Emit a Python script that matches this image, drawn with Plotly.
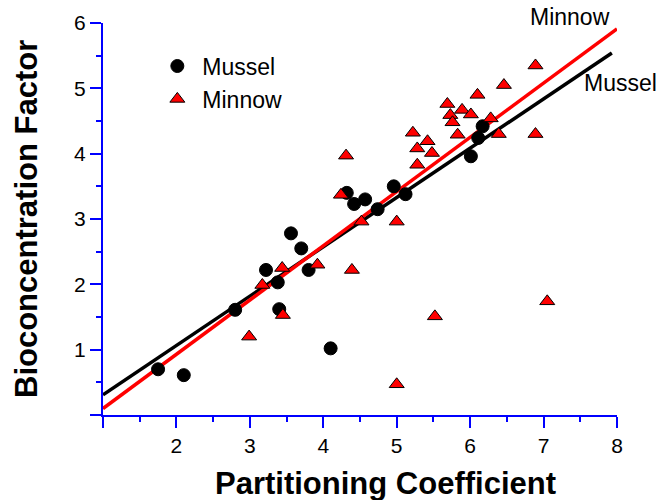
import plotly.graph_objects as go

# Data
mussel_x = [1.75, 2.10, 2.80, 3.22, 3.38, 3.40, 3.56, 3.70, 3.80, 4.10,
            4.32, 4.42, 4.57, 4.74, 4.96, 5.12, 6.01, 6.11, 6.17]
mussel_y = [0.70, 0.61, 1.61, 2.22, 2.03, 1.62, 2.78, 2.55, 2.22, 1.02,
            3.40, 3.23, 3.30, 3.15, 3.50, 3.38, 3.96, 4.24, 4.42]

minnow_x = [2.99, 3.17, 3.44, 3.45, 3.92, 4.39, 4.52, 4.31, 4.24, 5.00,
            5.22, 5.28, 5.28, 5.42, 5.48, 5.69, 5.73, 5.76, 5.83, 5.89,
            6.01, 6.10, 6.28, 6.39, 6.46, 6.89, 6.89, 5.52, 7.05, 5.00]
minnow_y = [1.20, 1.99, 2.25, 1.53, 2.30, 2.22, 2.96, 3.97, 3.37, 2.96,
            4.32, 4.08, 3.83, 4.19, 4.01, 4.76, 4.59, 4.48, 4.29, 4.67,
            4.60, 4.90, 4.54, 4.30, 5.05, 5.35, 4.30, 1.51, 1.74, 0.47]

mussel_fit_x = [1.0, 7.93]
mussel_fit_y = [0.31, 5.54]
minnow_fit_x = [1.0, 8.0]
minnow_fit_y = [0.10, 5.91]

x_ticks = [1, 2, 3, 4, 5, 6, 7, 8]
x_labels = ["", "2", "3", "4", "5", "6", "7", "8"]
y_ticks = [0, 1, 2, 3, 4, 5, 6]
y_labels = ["", "1", "2", "3", "4", "5", "6"]

FONT = "Arial, 'Liberation Sans', sans-serif"
BLUE = "#0000ff"

fig = go.Figure()
fig.add_trace(go.Scatter(x=mussel_fit_x, y=mussel_fit_y, mode="lines",
                         line=dict(color="black", width=3.5), showlegend=False,
                         hoverinfo="skip"))
fig.add_trace(go.Scatter(x=minnow_fit_x, y=minnow_fit_y, mode="lines",
                         line=dict(color="#ff0000", width=3.5), showlegend=False,
                         hoverinfo="skip"))
fig.add_trace(go.Scatter(x=mussel_x, y=mussel_y, mode="markers", name="Mussel",
                         legendgroup="a",
                         marker=dict(symbol="circle", size=13, color="black",
                                     line=dict(color="black", width=1))))
fig.add_trace(go.Scatter(x=minnow_x, y=minnow_y, mode="markers", name="Minnow",
                         legendgroup="b",
                         marker=dict(symbol="triangle-up", size=13, color="#ff0000",
                                     line=dict(color="black", width=1))))

axis_common = dict(showgrid=False, zeroline=False,
                   showline=True, linecolor=BLUE, linewidth=2,
                   ticks="outside", tickcolor=BLUE, ticklen=11, tickwidth=2,
                   tickfont=dict(family=FONT, size=21, color="black"),
                   minor=dict(dtick=0.5, ticks="outside", ticklen=5,
                              tickcolor=BLUE, tickwidth=2))

fig.update_layout(
    width=659, height=500,
    margin=dict(l=103, r=42, t=23, b=85),
    paper_bgcolor="white", plot_bgcolor="white",
    font=dict(family=FONT, color="black", size=19),
    legend=dict(x=0.096, y=0.945, xanchor="left", yanchor="top",
                font=dict(size=23), itemwidth=40, tracegroupgap=0,
                bgcolor="rgba(0,0,0,0)"),
    xaxis=dict(range=[1, 8], tickvals=x_ticks, ticktext=x_labels, **axis_common),
    yaxis=dict(range=[0, 6], tickvals=y_ticks, ticktext=y_labels, **axis_common),
    annotations=[
        dict(text="<b>Partitioning Coefficient</b>", xref="paper", yref="paper",
             x=(385 - 103) / 514, y=-(483 - 415) / 392, xanchor="center",
             yanchor="middle", showarrow=False, font=dict(size=31)),
        dict(text="<b>Bioconcentration Factor</b>", xref="paper", yref="paper",
             x=-(103 - 26) / 514, y=0.5, xanchor="center", yanchor="middle",
             textangle=-90, showarrow=False, font=dict(size=31)),
        dict(text="Minnow", xref="paper", yref="paper",
             x=(570 - 103) / 514, y=(415 - 17) / 392, xanchor="center",
             yanchor="middle", showarrow=False, font=dict(size=23)),
        dict(text="Mussel", xref="paper", yref="paper",
             x=(620 - 103) / 514, y=(415 - 83) / 392, xanchor="center",
             yanchor="middle", showarrow=False, font=dict(size=23)),
    ],
)

fig.write_html("out.html", config={"displayModeBar": False},
               post_script="document.body.style.margin='0';document.body.style.padding='0';")
